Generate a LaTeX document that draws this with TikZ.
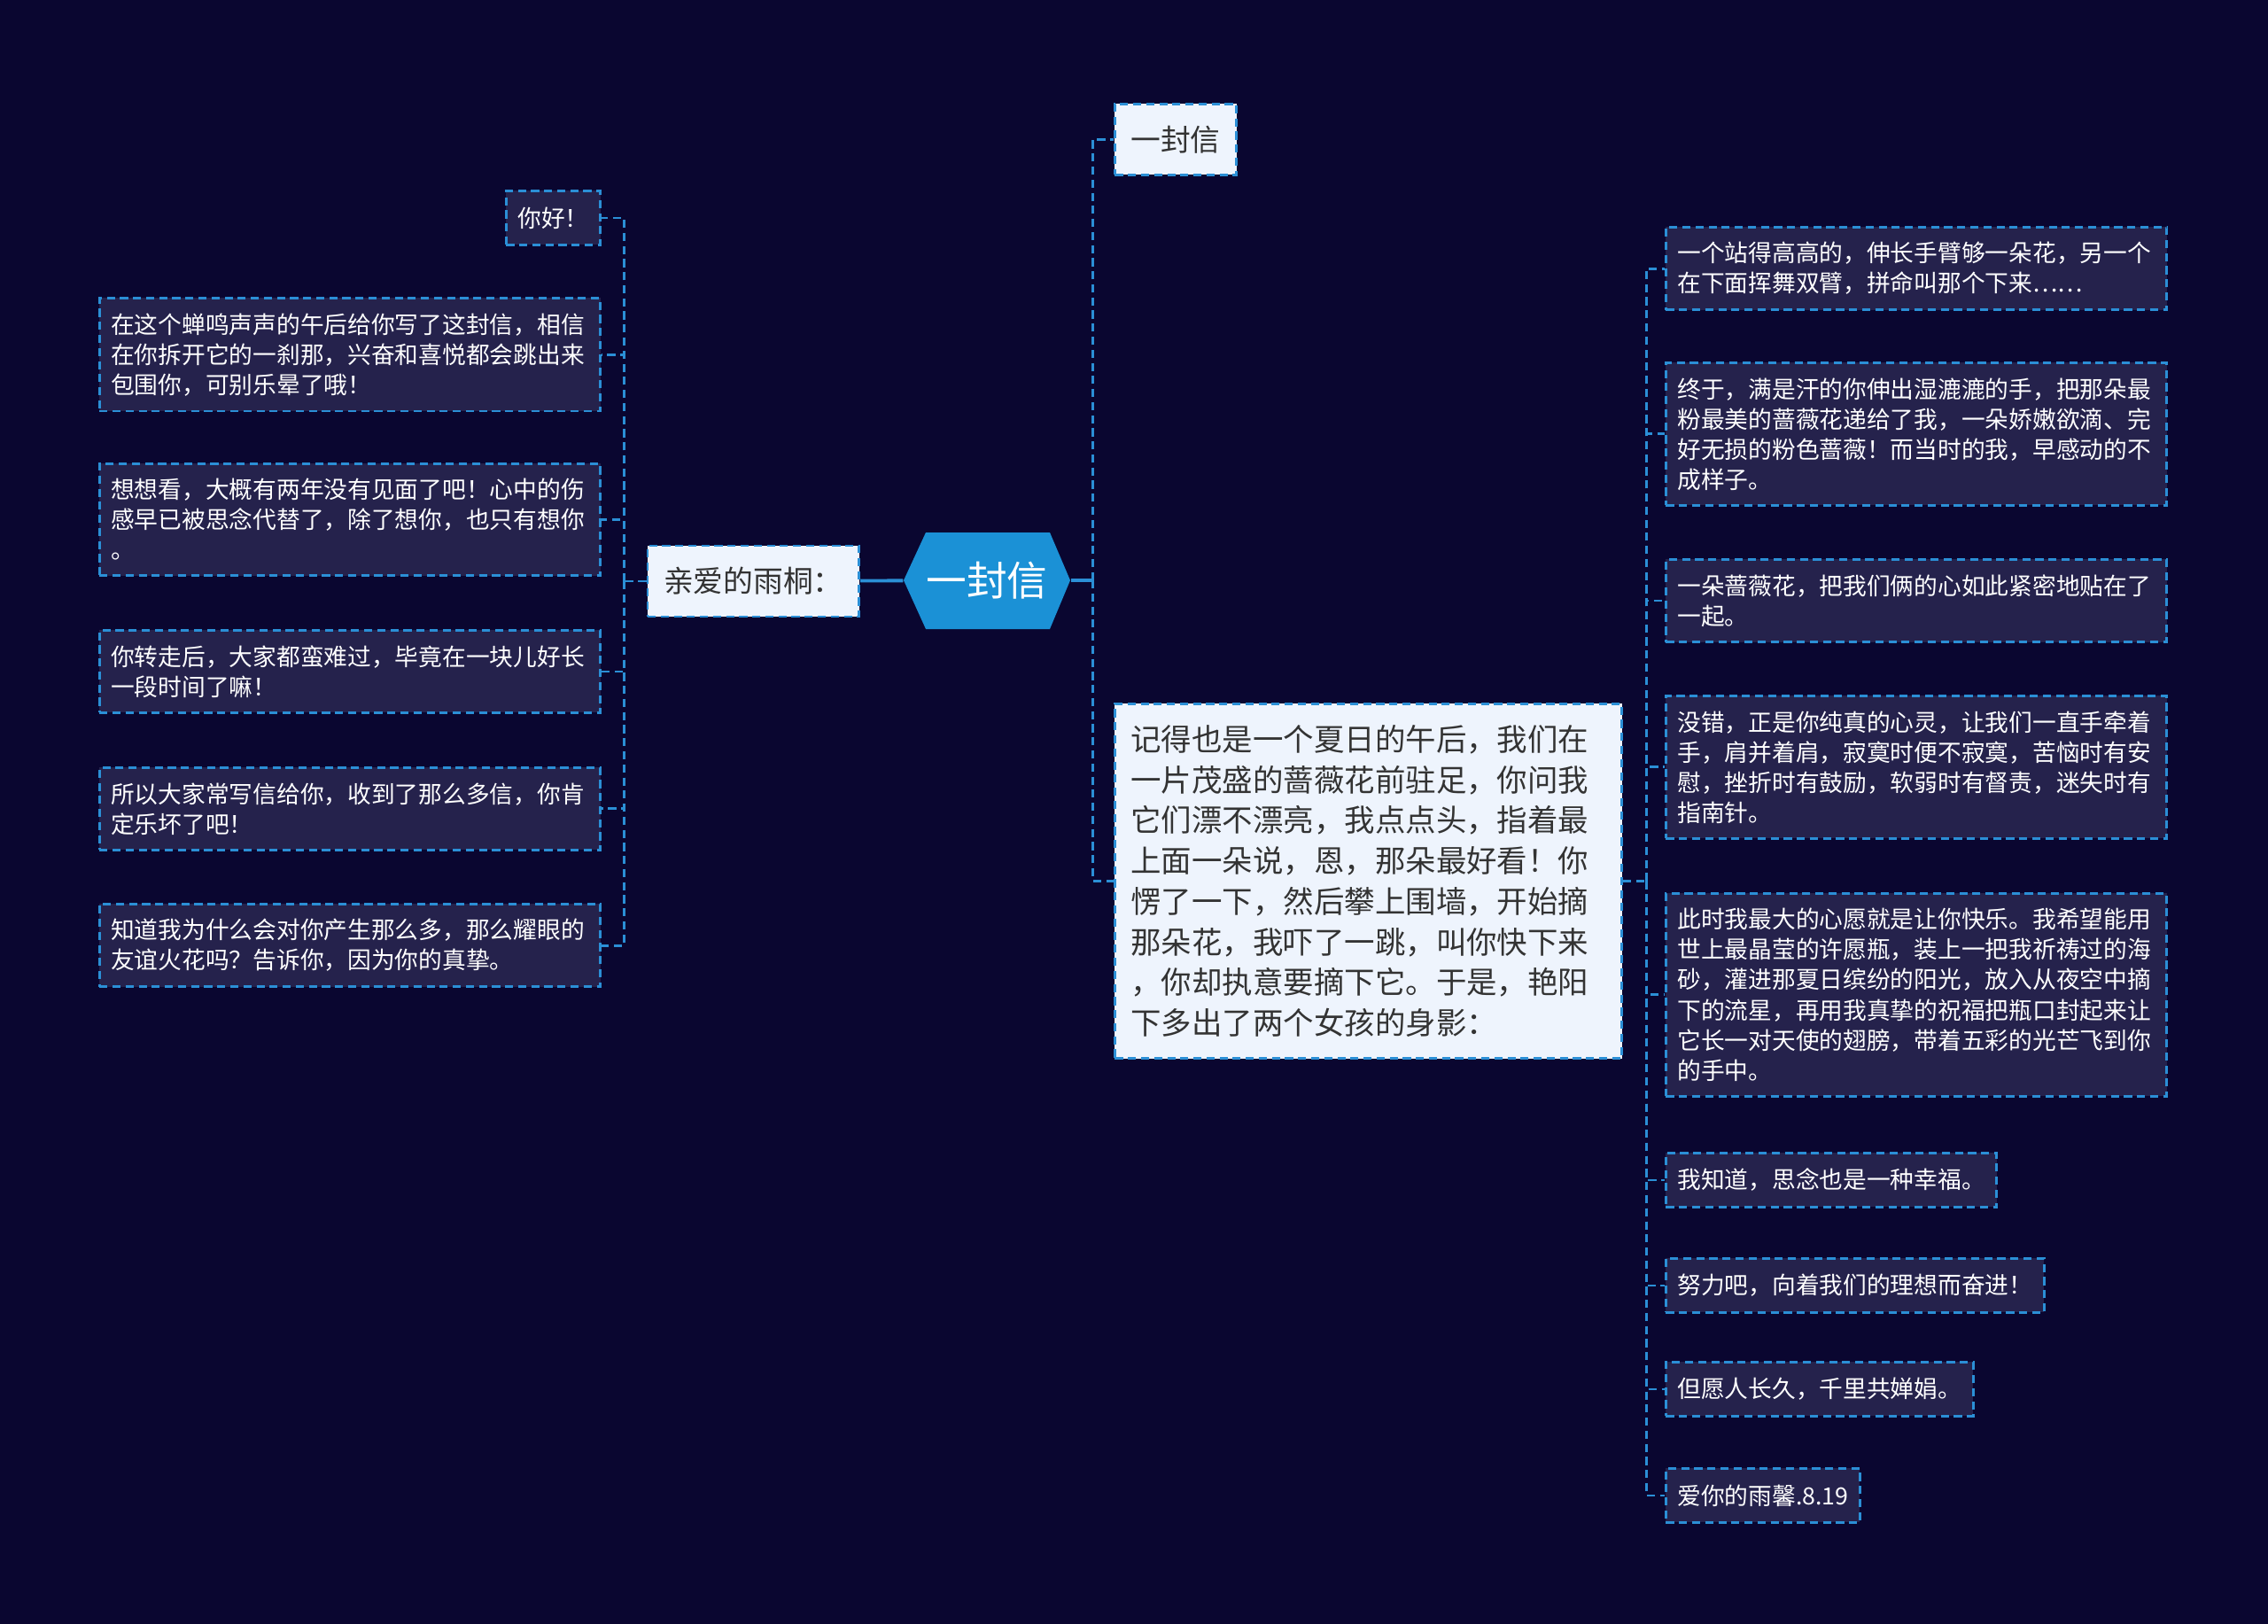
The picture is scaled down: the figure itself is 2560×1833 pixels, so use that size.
\documentclass[tikz,border=0pt]{standalone}
\usepackage{fontspec}
\setmainfont{Noto Sans CJK SC}
\usetikzlibrary{positioning}
\tikzset{
  twig/.style={draw=linkblue,line width=0.8pt,dash pattern=on 2.6pt off 1.6pt},
  trunk/.style={draw=linkblue,line width=1.1pt},
  leaf/.style={twig,fill=leafbg,text=white,align=left,inner xsep=0.13cm,inner ysep=0.17cm,
    minimum height=0.61cm,font=\fontsize{7.6}{9.67}\selectfont},
  wideleaf/.style={leaf,text width=5.39cm},
  pale/.style={twig,fill=palebg,text=paletext,align=left,inner xsep=0.18cm,inner ysep=0.23cm,
    minimum height=0.8cm,font=\fontsize{9.6}{12}\selectfont},
  hub/.style={text=white,minimum width=1.88cm,minimum height=1.09cm,inner sep=0pt,
    font=\fontsize{13}{15}\selectfont}
}

\begin{document}
\begin{tikzpicture}[x=0.01cm,y=-0.01cm]
  \definecolor{pagebg}{HTML}{0A0630}
  \definecolor{leafbg}{HTML}{25224C}
  \definecolor{linkblue}{HTML}{2B8FD6}
  \definecolor{hubblue}{HTML}{1B91D6}
  \definecolor{palebg}{HTML}{EEF4FD}
  \definecolor{paletext}{HTML}{333333}

  \fill[pagebg] (0,0) rectangle (2560,1833);

  % root
  \fill[hubblue] (1020,655) -- (1045,601) -- (1185,601) -- (1208,655)
    -- (1185,710) -- (1045,710) -- cycle;
  \node[hub] (root) at (1114,655) {一封信};

  % left
  \node[pale,anchor=east] (dear) at (971,656) {亲爱的雨桐：};
  \node[leaf,anchor=north east] (l1) at (679,214) {你好！};
  \node[wideleaf,anchor=north east] (l2) at (679,335) {在这个蝉鸣声声的午后给你写了这封信，相信\\在你拆开它的一刹那，兴奋和喜悦都会跳出来\\包围你，可别乐晕了哦！};
  \node[wideleaf,anchor=north east] (l3) at (679,522) {想想看，大概有两年没有见面了吧！心中的伤\\感早已被思念代替了，除了想你，也只有想你\\。};
  \node[wideleaf,anchor=north east] (l4) at (679,710) {你转走后，大家都蛮难过，毕竟在一块儿好长\\一段时间了嘛！};
  \node[wideleaf,anchor=north east] (l5) at (679,865) {所以大家常写信给你，收到了那么多信，你肯\\定乐坏了吧！};
  \node[wideleaf,anchor=north east] (l6) at (679,1019) {知道我为什么会对你产生那么多，那么耀眼的\\友谊火花吗？告诉你，因为你的真挚。};

  \coordinate[left=0.25cm of dear] (lj);
  \draw[trunk] (root) -- (dear);
  \draw[twig] (dear) -- (lj);
  \foreach \i in {1,...,6}
    \draw[twig] (lj) |- (l\i);

  % right
  \node[pale,anchor=north west] (top) at (1257,116) {一封信};
  \node[pale,anchor=north west,text width=5.36cm,inner ysep=0.24cm,
    font=\fontsize{9.8}{13}\selectfont] (story) at (1257,793)
    {记得也是一个夏日的午后，我们在\\一片茂盛的蔷薇花前驻足，你问我\\它们漂不漂亮，我点点头，指着最\\上面一朵说，恩，那朵最好看！你\\愣了一下，然后攀上围墙，开始摘\\那朵花，我吓了一跳，叫你快下来\\，你却执意要摘下它。于是，艳阳\\下多出了两个女孩的身影：};

  \coordinate[right=0.25cm of root] (tj);
  \draw[trunk] (root) -- (tj);
  \draw[twig] (tj) |- (top);
  \draw[twig] (tj) |- (story);

  \node[wideleaf,anchor=north west] (r1) at (1879,255) {一个站得高高的，伸长手臂够一朵花，另一个\\在下面挥舞双臂，拼命叫那个下来……};
  \node[wideleaf,anchor=north west] (r2) at (1879,408) {终于，满是汗的你伸出湿漉漉的手，把那朵最\\粉最美的蔷薇花递给了我，一朵娇嫩欲滴、完\\好无损的粉色蔷薇！而当时的我，早感动的不\\成样子。};
  \node[wideleaf,anchor=north west] (r3) at (1879,630) {一朵蔷薇花，把我们俩的心如此紧密地贴在了\\一起。};
  \node[wideleaf,anchor=north west] (r4) at (1879,784) {没错，正是你纯真的心灵，让我们一直手牵着\\手，肩并着肩，寂寞时便不寂寞，苦恼时有安\\慰，挫折时有鼓励，软弱时有督责，迷失时有\\指南针。};
  \node[wideleaf,anchor=north west] (r5) at (1879,1007) {此时我最大的心愿就是让你快乐。我希望能用\\世上最晶莹的许愿瓶，装上一把我祈祷过的海\\砂，灌进那夏日缤纷的阳光，放入从夜空中摘\\下的流星，再用我真挚的祝福把瓶口封起来让\\它长一对天使的翅膀，带着五彩的光芒飞到你\\的手中。};
  \node[leaf,anchor=north west] (r6) at (1879,1300) {我知道，思念也是一种幸福。};
  \node[leaf,anchor=north west] (r7) at (1879,1419) {努力吧，向着我们的理想而奋进！};
  \node[leaf,anchor=north west] (r8) at (1879,1536) {但愿人长久，千里共婵娟。};
  \node[leaf,anchor=north west] (r9) at (1879,1656) {爱你的雨馨.8.19};

  \coordinate[right=0.26cm of story] (rj);
  \draw[twig] (story) -- (rj);
  \foreach \i in {1,...,9}
    \draw[twig] (rj) |- (r\i);
\end{tikzpicture}
\end{document}
